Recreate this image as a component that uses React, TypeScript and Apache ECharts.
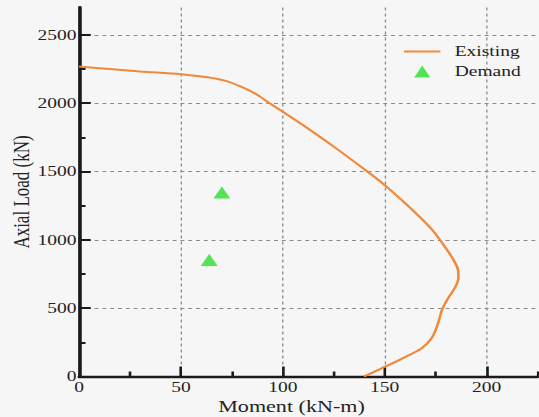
import React, { useEffect, useRef } from "react";
import * as echarts from "echarts";

// Interaction curve ("Existing")
const existingMoment = [0, 15, 30, 50, 63, 72, 80, 87, 94, 100, 110, 125, 141, 150, 160, 167, 173.5, 179, 183.5, 186, 186.2, 184.5, 181, 178.3, 176, 173, 168, 159, 150, 139.8];
const existingAxial = [2268, 2250, 2232, 2212, 2190, 2163, 2117, 2065, 1995, 1937, 1838, 1682, 1505, 1400, 1268, 1170, 1070, 960, 860, 780, 720, 650, 570, 495, 380, 280, 205, 135, 70, 0];

// Demand points
const demandMoment = [70.1, 63.9];
const demandAxial = [1346, 853];

// Axis ticks / labels
const xLabels = [0, 50, 100, 150, 200];
const xMajorTicks = [50, 100, 150, 200];
const xMinorTicks = [25, 75, 125, 175, 225];
const yLabels = [0, 500, 1000, 1500, 2000, 2500];
const yMajorTicks = [500, 1000, 1500, 2000, 2500];
const yMinorTicks = [250, 750, 1250, 1750, 2250];

const W = 539;
const H = 417;
const SX = 1.3; // horizontal stretch of the reference picture
const IW = W / SX;
const FONT = '"Liberation Serif", "Times New Roman", serif';

export default function App() {
  const ref = useRef<HTMLDivElement>(null);

  useEffect(() => {
    if (!ref.current) return;
    const chart = echarts.init(ref.current, undefined, { renderer: "svg" });
    const axisColor = "#1a1a1a";
    const gridColor = "#8a8a8a";
    const green = "#2be02b";
    const labelStyle = { fontFamily: FONT, fontSize: 15, color: "#222" };
    const plain = (v: number) => String(v);

    const option: any = {
      animation: false,
      backgroundColor: "#f6f6f7",
      textStyle: { fontFamily: FONT },
      grid: {
        left: 60.8,
        right: IW - 537 / SX,
        top: 7.5,
        bottom: 40.5,
        containLabel: false,
        outerBoundsMode: "none",
      },
      legend: {
        orient: "vertical",
        left: 310.8,
        top: 44,
        padding: 0,
        itemWidth: 28,
        itemHeight: 12,
        itemGap: 5,
        textStyle: { fontFamily: FONT, fontSize: 15, color: "#222", padding: [0, 0, 0, 6] },
        data: [
          { name: "Existing", icon: "path://M0,0H28V2H0Z" },
          { name: "Demand", icon: "path://M0,12L6.15,0L12.3,12Z" },
        ],
      },
      xAxis: [
        {
          type: "value",
          min: 0,
          max: 225,
          interval: 50,
          position: "bottom",
          axisLine: { show: true, lineStyle: { color: axisColor, width: 2.4 } },
          axisTick: { show: true, inside: true, length: 10, customValues: xMajorTicks, lineStyle: { color: axisColor, width: 2 } },
          axisLabel: { customValues: xLabels, margin: 3, formatter: plain, ...labelStyle },
          splitLine: {
            show: true,
            lineStyle: { type: [3, 3], width: 1, color: [gridColor, gridColor, gridColor, gridColor, gridColor, "rgba(0,0,0,0)"] },
          },
        },
        {
          type: "value",
          min: 0,
          max: 225,
          interval: 25,
          position: "bottom",
          axisLine: { show: false },
          axisTick: { show: true, inside: true, length: 5, customValues: xMinorTicks, lineStyle: { color: axisColor, width: 2 } },
          axisLabel: { show: false },
          splitLine: { show: false },
        },
      ],
      yAxis: [
        {
          type: "value",
          min: 0,
          max: 2700,
          interval: 500,
          position: "left",
          name: "Axial Load (kN)",
          nameLocation: "middle",
          nameGap: 36,
          nameMoveOverlap: false,
          nameTextStyle: { fontFamily: FONT, fontSize: 17, color: "#222" },
          axisLine: { show: true, lineStyle: { color: axisColor, width: 2.8 } },
          axisTick: { show: true, inside: true, length: 9, customValues: yMajorTicks, lineStyle: { color: axisColor, width: 2 } },
          axisLabel: { customValues: yLabels, margin: 2, formatter: plain, ...labelStyle },
          splitLine: {
            show: true,
            lineStyle: { type: [3, 3], width: 1, color: [gridColor, gridColor, gridColor, gridColor, gridColor, gridColor, "rgba(0,0,0,0)"] },
          },
        },
        {
          type: "value",
          min: 0,
          max: 2700,
          interval: 250,
          position: "left",
          axisLine: { show: false },
          axisTick: { show: true, inside: true, length: 5, customValues: yMinorTicks, lineStyle: { color: axisColor, width: 2 } },
          axisLabel: { show: false },
          splitLine: { show: false },
        },
      ],
      graphic: [
        {
          type: "text",
          x: 291.5 / SX,
          y: 406,
          style: {
            text: "Moment (kN-m)",
            font: `17px ${FONT}`,
            fill: "#222",
            align: "center",
            verticalAlign: "middle",
          },
        },
      ],
      series: [
        {
          name: "Existing",
          type: "line",
          xAxisIndex: 0,
          yAxisIndex: 0,
          data: existingMoment.map((m, i) => [m, existingAxial[i]]),
          symbol: "none",
          smooth: 0.3,
          lineStyle: { color: "#f0893a", width: 2 },
          itemStyle: { color: "#f0893a" },
          z: 3,
        },
        {
          name: "Demand",
          type: "scatter",
          xAxisIndex: 0,
          yAxisIndex: 0,
          data: demandMoment.map((m, i) => [m, demandAxial[i]]),
          symbol: "triangle",
          symbolSize: [13, 12],
          itemStyle: { color: green },
          z: 4,
        },
      ],
    };
    chart.setOption(option);
    return () => chart.dispose();
  }, []);

  return (
    <div style={{ position: "absolute", left: 0, top: 0, width: W, height: H, overflow: "hidden" }}>
      <div
        ref={ref}
        style={{ width: IW, height: H, transform: `scaleX(${SX})`, transformOrigin: "0 0" }}
      />
    </div>
  );
}
